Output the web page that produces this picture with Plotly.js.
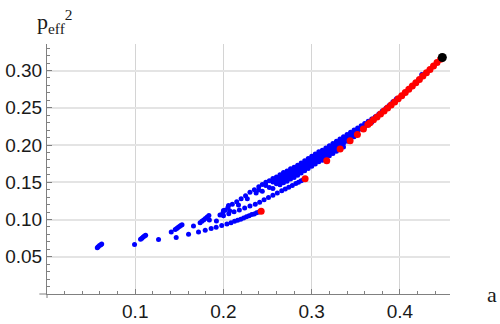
<!DOCTYPE html>
<html><head><meta charset="utf-8">
<script src="https://cdn.plot.ly/plotly-3.0.1.min.js"></script>
<style>html,body{margin:0;padding:0;background:#fff}</style>
</head><body><div id="chart" style="width:500px;height:324px"></div>
<script>
// x tick labels / y tick labels
const xTicks = [0.1, 0.2, 0.3, 0.4];
const yTicks = [0.05, 0.10, 0.15, 0.20, 0.25, 0.30];

// blue points (a, p_eff^2)
const blueX = [
 0.057,0.058,0.0595,0.061,0.062,
 0.0992,
 0.106,0.1075,0.109,0.1105,0.1118,
 0.1264,0.1408,
 0.1453,0.147,0.1484,0.150,0.1515,0.153,
 0.1464,0.1604,0.166,0.1717,0.1793,
 0.1735,0.1755,0.1775,0.1795,0.1815,0.1835,
 0.184,0.192,0.196,0.1993,0.2016,0.2057,
 // lowest family
 0.186,0.1917,0.198,0.2039,0.2085,0.2125,0.216,0.2195,0.2228,0.226,0.229,0.232,0.2348,0.2375,0.2402,
 // family ending at second red point
 0.200,0.206,0.212,0.218,0.224,0.230,0.236,0.241,0.246,0.251,0.256,0.261,0.266,0.270,0.274,0.278,0.282,0.285,0.288,0.2905,
 // middle dotted row
 0.207,0.217,0.227,0.237,
 // upper row
 0.200,0.205,0.210,0.215,0.220,0.225,0.230,0.235,0.240,0.244,0.248,0.252,0.256,0.260,0.264,0.268,0.272,0.276,0.280,0.284,0.288,0.292,0.296,0.300,0.304,0.308,0.312,0.316,0.320,0.324,0.328,0.332,0.336,0.340,0.344,0.348,0.352,0.356,0.360,0.364,0.368,0.372,0.376,0.380,0.384,0.388,0.392,0.396,
 // second row
 0.240,0.248,0.256,0.260,0.264,0.268,0.272,0.276,0.280,0.284,0.288,0.292,0.296,0.300,0.304,0.308,0.312,0.316,0.320,0.324,0.328,0.332,0.336,0.340,0.344,0.348,0.352,0.356,0.360,0.364,0.368,
 // third row
 0.244,0.252,0.260,0.264,0.268,0.272,0.276,0.280,0.284,0.288,0.292,0.296,0.300,0.304,0.308,0.312,0.316,0.320,0.324,0.328,0.332,0.336,0.340,0.344,0.348,
 // fourth row
 0.256,0.264,0.268,0.272,0.276,0.280,0.284,0.288,0.292,0.296,0.300,0.304,0.308,0.312,0.316,0.320,0.324,0.328,0.332,0.336,
 // along the upper end
 0.4247
];
const blueY = [
 0.062,0.0635,0.065,0.066,0.067,
 0.0664,
 0.0735,0.075,0.0765,0.0778,0.079,
 0.0731,0.0833,
 0.0866,0.088,0.0892,0.0905,0.0918,0.093,
 0.0758,0.0802,0.0914,0.0833,0.0856,
 0.0955,0.0975,0.0995,0.1015,0.1035,0.1055,
 0.0995,0.098,0.106,0.1089,0.1125,0.1188,
 0.088,0.0897,0.0918,0.094,0.0958,0.0975,0.099,0.1005,0.102,0.1036,0.1051,0.1066,0.1075,0.109,0.110,
 0.1052,0.1078,0.1104,0.1129,0.1155,0.1181,0.1206,0.1233,0.1264,0.1294,0.1324,0.1355,0.1385,0.141,0.1434,0.1458,0.1482,0.150,0.1519,0.1534,
 0.1118,0.1196,0.1278,0.1356,
 0.112,0.116,0.1205,0.124,0.128,0.132,0.1365,0.140,0.144,0.147,0.150,0.152,0.155,0.157,0.160,0.163,0.165,0.168,0.170,0.173,0.176,0.179,0.182,0.185,0.188,0.191,0.193,0.196,0.199,0.202,0.205,0.208,0.211,0.214,0.217,0.220,0.223,0.226,0.229,0.232,0.235,0.238,0.2415,0.2455,0.2495,0.2535,0.258,0.262,
 0.1395,0.1455,0.1505,0.1525,0.1555,0.1585,0.1605,0.1635,0.1655,0.1685,0.1715,0.1745,0.1775,0.1805,0.1835,0.1865,0.1885,0.1915,0.1945,0.1975,0.2005,0.2035,0.2065,0.2095,0.2125,0.2155,0.2185,0.2215,0.2245,0.2275,0.2305,
 0.138,0.143,0.148,0.151,0.154,0.156,0.159,0.161,0.164,0.167,0.170,0.173,0.176,0.179,0.182,0.184,0.187,0.190,0.193,0.196,0.199,0.202,0.205,0.208,0.211,
 0.1415,0.1465,0.1495,0.1515,0.1545,0.1565,0.1595,0.1625,0.1655,0.1685,0.1715,0.1745,0.1775,0.1795,0.1825,0.1855,0.1885,0.1915,0.1945,0.1975,
 0.2947
];

// red points (end points)
const redX = [0.2427,0.2925,0.317,0.3322,0.3435,0.3518,0.3586,0.3636,
 0.366,0.370,0.374,0.378,0.382,0.386,0.390,0.394,0.398,0.402,0.406,0.410,0.414,0.418,0.422,0.426,0.430,0.434,0.438,0.442,0.446];
const redY = [0.111,0.1546,0.179,0.1945,0.2056,0.2142,0.2214,0.2277,
 0.2300,0.2338,0.2377,0.2416,0.2456,0.2496,0.2537,0.2578,0.2620,0.2662,0.2705,0.2748,0.2792,0.2836,0.2880,0.2925,0.2970,0.3015,0.3060,0.3106,0.3152];

// black point
const blackX = [0.448];
const blackY = [0.3175];

const axisCol = '#808080';
const tickFont = {family: 'Liberation Sans, Arial, sans-serif', size: 19, color: '#1a1a1a'};

const data = [
 {type:'scatter', mode:'markers', x: blueX, y: blueY, marker:{color:'#0000ff', size:5}, hoverinfo:'skip', showlegend:false, cliponaxis:false},
 {type:'scatter', mode:'markers', x: redX, y: redY, marker:{color:'#ff0000', size:7}, hoverinfo:'skip', showlegend:false, cliponaxis:false},
 {type:'scatter', mode:'markers', x: blackX, y: blackY, marker:{color:'#000000', size:9}, hoverinfo:'skip', showlegend:false, cliponaxis:false}
];

const layout = {
 width: 500, height: 324,
 margin: {l: 47, r: 50, t: 44, b: 30, pad: 0},
 paper_bgcolor: '#ffffff', plot_bgcolor: '#ffffff',
 showlegend: false,
 xaxis: {
  range: [0, 0.4567], tickvals: xTicks, ticktext: xTicks.map(v => v.toFixed(1)),
  showline: true, linecolor: axisCol, linewidth: 1, zeroline: false,
  showgrid: true, gridcolor: '#d4d4d4', gridwidth: 1,
  ticks: 'inside', ticklen: 5, tickcolor: axisCol, tickwidth: 1,
  minor: {dtick: 0.02, tick0: 0, ticks: 'inside', ticklen: 3, tickcolor: axisCol, showgrid: false},
  tickfont: tickFont, fixedrange: true
 },
 yaxis: {
  range: [0, 0.3356], tickvals: yTicks, ticktext: yTicks.map(v => v.toFixed(2)),
  showline: true, linecolor: axisCol, linewidth: 1, zeroline: false,
  showgrid: true, gridcolor: '#e4e4e4', gridwidth: 2,
  ticks: 'inside', ticklen: 5, tickcolor: axisCol, tickwidth: 1,
  minor: {dtick: 0.01, tick0: 0, ticks: 'inside', ticklen: 3, tickcolor: axisCol, showgrid: false},
  tickfont: tickFont, fixedrange: true
 },
 shapes: [
  {type:'line', xref:'paper', yref:'paper', x0:-0.019, x1:0, y0:0, y1:0, line:{color:axisCol, width:1}},
  {type:'line', xref:'paper', yref:'paper', x0:0, x1:0, y0:-0.016, y1:0, line:{color:axisCol, width:1}}
 ],
 annotations: [
  {xref:'paper', yref:'paper', x: 1.105, y: 0, xanchor:'center', yanchor:'middle', showarrow:false,
   text:'a', font:{family:'Liberation Serif, Times New Roman, serif', size:22, color:'#1a1a1a'}},
  {xref:'paper', yref:'paper', x: -0.03, y: 1.02, xanchor:'left', yanchor:'bottom', showarrow:false,
   text:'p<sub>eff</sub><sup>2</sup>', font:{family:'Liberation Serif, Times New Roman, serif', size:22, color:'#1a1a1a'}}
 ]
};

Plotly.newPlot('chart', data, layout, {displayModeBar: false, staticPlot: true});
</script>
</body></html>
